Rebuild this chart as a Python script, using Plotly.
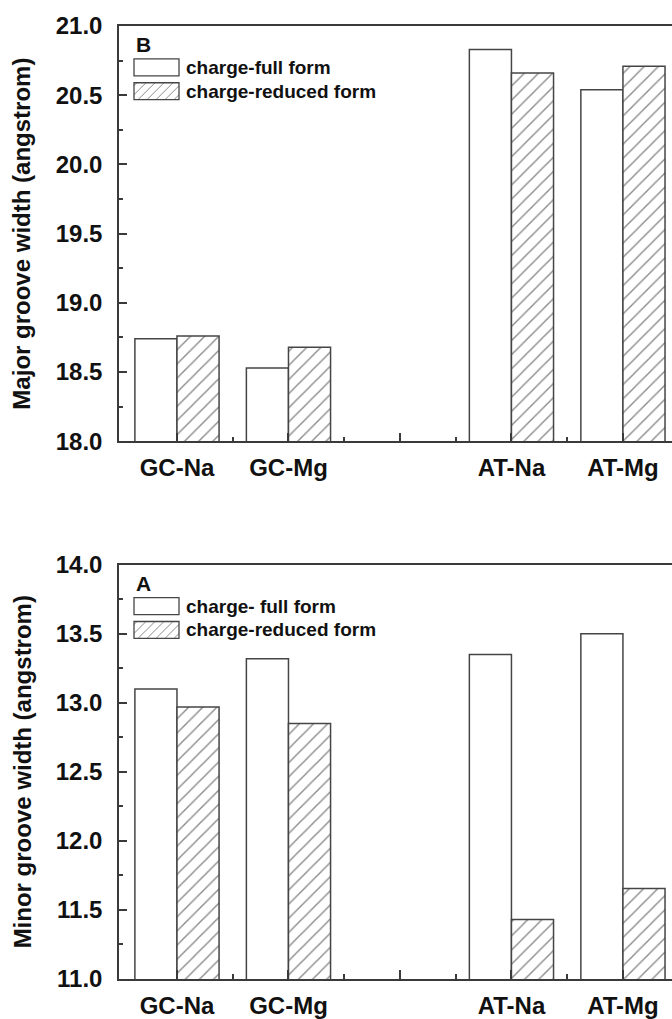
import plotly.graph_objects as go

# ---------------- data ----------------
categories = ["GC-Na", "GC-Mg", "", "AT-Na", "AT-Mg"]
major_full = [18.74, 18.53, None, 20.83, 20.54]
major_reduced = [18.76, 18.68, None, 20.66, 20.71]
minor_full = [13.10, 13.32, None, 13.35, 13.50]
minor_reduced = [12.97, 12.85, None, 11.43, 11.655]
legend_top = ["charge-full form", "charge-reduced form"]
legend_bottom = ["charge- full form", "charge-reduced form"]
panel_letters = ["B", "A"]
y_titles = ["Major groove width (angstrom)", "Minor groove width (angstrom)"]

# ---------------- layout helpers ----------------
W, H = 672, 1019
L, R, T, B = 119, 0, 26, 36
PW, PH = W - L - R, H - T - B


def px_x(px):
    return (px - L) / PW


def px_y(py):
    return (H - B - py) / PH


FONT = "Liberation Sans, Arial, Helvetica, sans-serif"
TXT = "#111111"
LINE = "#3a3a3a"
BAR_LINE = "#454545"
HATCH = "#8c8c8c"

xpos = list(range(1, len(categories) + 1))

fig = go.Figure()


def add_pair(full, reduced, xa, ya, names):
    fig.add_trace(go.Bar(
        x=xpos, y=full, name=names[0], xaxis=xa, yaxis=ya, showlegend=False,
        marker=dict(color="white", line=dict(color=BAR_LINE, width=1.5)),
    ))
    fig.add_trace(go.Bar(
        x=xpos, y=reduced, name=names[1], xaxis=xa, yaxis=ya, showlegend=False,
        marker=dict(color="white", line=dict(color=BAR_LINE, width=1.5),
                    pattern=dict(shape="/", fgcolor=HATCH, bgcolor="white",
                                 size=10, solidity=0.14, fillmode="replace")),
    ))


add_pair(major_full, major_reduced, "x", "y", legend_top)
add_pair(minor_full, minor_reduced, "x2", "y2", legend_bottom)

xaxis_common = dict(
    range=[0.48, 5.44], tickmode="array", tickvals=xpos, ticktext=categories,
    ticks="inside", ticklen=9, tickwidth=1.5, tickcolor=LINE,
    showline=True, linecolor=LINE, linewidth=1.5, mirror=True,
    showgrid=False, zeroline=False, ticklabelstandoff=4,
    tickfont=dict(family=FONT, size=24, color=TXT, weight="bold"),
    minor=dict(tickmode="array", tickvals=[1.5, 2.5, 3.5, 4.5], ticks="inside",
               ticklen=5, tickwidth=1.5, tickcolor=LINE, showgrid=False),
)
yaxis_common = dict(
    dtick=0.5, tickformat=".1f", ticks="inside", ticklen=8, tickwidth=1.5,
    tickcolor=LINE, showline=True, linecolor=LINE, linewidth=1.5, mirror=False,
    showgrid=False, zeroline=False, ticklabelstandoff=10,
    tickfont=dict(family=FONT, size=24, color=TXT, weight="bold"),
    minor=dict(dtick=0.25, ticks="inside", ticklen=4, tickwidth=1.5,
               tickcolor=LINE, showgrid=False),
)

top_y0 = px_y(443)
bot_y1 = px_y(567)

fig.update_layout(
    width=W, height=H,
    margin=dict(l=L, r=R, t=T, b=B),
    paper_bgcolor="white", plot_bgcolor="white",
    barmode="group", bargap=0.245, bargroupgap=0,
    showlegend=False,
    xaxis=dict(xaxis_common, anchor="y", domain=[0, 1]),
    yaxis=dict(yaxis_common, anchor="x", domain=[top_y0, 1], range=[18, 21]),
    xaxis2=dict(xaxis_common, anchor="y2", domain=[0, 1]),
    yaxis2=dict(yaxis_common, anchor="x2", domain=[0, bot_y1], range=[11, 14]),
)

shapes = []
annotations = []


def hatch_path(x0, y0, x1, y1, step=9):
    segs = []
    c = x0 + y0 + 3
    while c < x1 + y1:
        lo = max(x0, c - y1)
        hi = min(x1, c - y0)
        if hi > lo:
            segs.append("M%.5f,%.5f L%.5f,%.5f" % (px_x(lo), px_y(c - lo), px_x(hi), px_y(c - hi)))
        c += step
    return " ".join(segs)


for top, letter, labels, title in [(26, panel_letters[0], legend_top, y_titles[0]),
                                   (567, panel_letters[1], legend_bottom, y_titles[1])]:
    annotations.append(dict(text=letter, xref="paper", yref="paper",
                            x=px_x(134), y=px_y(top + 19), xanchor="left", yanchor="middle",
                            showarrow=False, font=dict(family=FONT, size=21, color=TXT, weight="bold")))
    for i, lab in enumerate(labels):
        ya, yb = top + 33 + 24 * i, top + 50 + 24 * i
        xa, xb = 134, 179
        if i == 1:
            shapes.append(dict(type="path", xref="paper", yref="paper",
                               path=hatch_path(xa, ya, xb, yb),
                               line=dict(color=HATCH, width=1)))
        shapes.append(dict(type="rect", xref="paper", yref="paper",
                           x0=px_x(xa), x1=px_x(xb), y0=px_y(yb), y1=px_y(ya),
                           line=dict(color=BAR_LINE, width=1.3), fillcolor="rgba(0,0,0,0)"))
        annotations.append(dict(text=lab, xref="paper", yref="paper",
                                x=px_x(184), y=px_y((ya + yb) / 2), xanchor="left", yanchor="middle",
                                showarrow=False,
                                font=dict(family=FONT, size=19, color=TXT, weight="bold")))
    annotations.append(dict(text=title, xref="paper", yref="paper", textangle=-90,
                            x=px_x(22), y=px_y((top + top + 417) / 2),
                            xanchor="center", yanchor="middle", showarrow=False,
                            font=dict(family=FONT, size=24, color=TXT, weight="bold")))

fig.update_layout(shapes=shapes, annotations=annotations)

fig.write_html(
    "out.html",
    config={"displayModeBar": False},
    post_script="document.body.style.margin='0';document.body.style.overflow='hidden';",
)
